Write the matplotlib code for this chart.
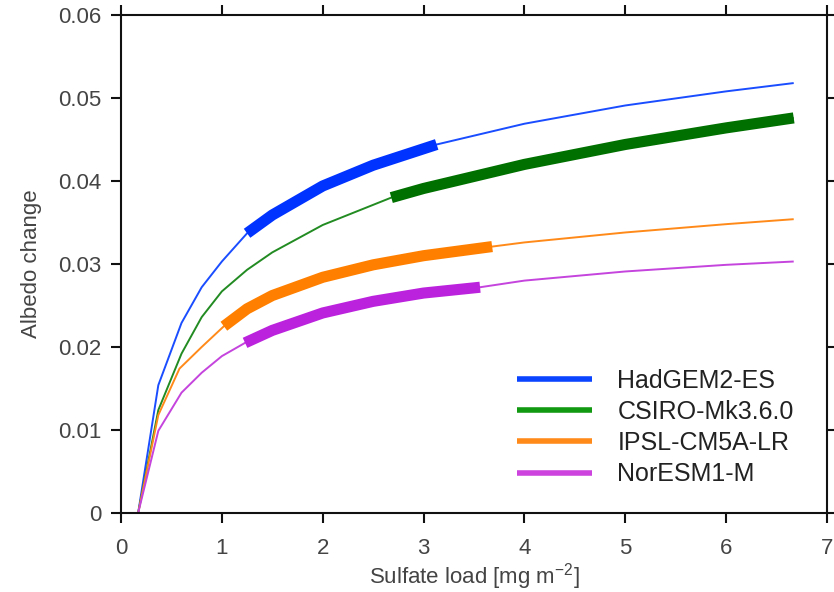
import numpy as np
import matplotlib
matplotlib.use("Agg")
import matplotlib.pyplot as plt
from matplotlib.lines import Line2D

plt.rcParams['font.family'] = ['Liberation Sans', 'DejaVu Sans']
plt.rcParams['mathtext.fontset'] = 'custom'
plt.rcParams['mathtext.rm'] = 'Liberation Sans'
plt.rcParams['mathtext.it'] = 'Liberation Sans'

models = ["HadGEM2-ES", "CSIRO-Mk3.6.0", "IPSL-CM5A-LR", "NorESM1-M"]

had_x = [0.17, 0.37, 0.6, 0.8, 1.0, 1.25, 1.5, 2.0, 2.5, 3.13, 4.0, 5.0, 6.0, 6.67]
had_y = [0.0, 0.0154, 0.0229, 0.0272, 0.0303, 0.0337, 0.0359, 0.0394, 0.0419, 0.0444, 0.0469, 0.0491, 0.0508, 0.0518]
had_thick = (1.25, 3.13)

csi_x = [0.17, 0.37, 0.6, 0.8, 1.0, 1.25, 1.5, 2.0, 2.68, 3.0, 4.0, 5.0, 6.0, 6.67]
csi_y = [0.0, 0.0124, 0.0192, 0.0236, 0.0267, 0.0293, 0.0314, 0.0347, 0.0380, 0.0391, 0.0420, 0.0444, 0.0464, 0.0476]
csi_thick = (2.68, 6.67)

ips_x = [0.17, 0.37, 0.58, 0.8, 1.02, 1.25, 1.5, 2.0, 2.5, 3.0, 3.68, 4.0, 5.0, 6.0, 6.67]
ips_y = [0.0, 0.0118, 0.0174, 0.0200, 0.0225, 0.0246, 0.0262, 0.0284, 0.0299, 0.0310, 0.0321, 0.0326, 0.0338, 0.0348, 0.0354]
ips_thick = (1.02, 3.68)

nor_x = [0.17, 0.37, 0.6, 0.8, 1.0, 1.23, 1.5, 2.0, 2.5, 3.0, 3.56, 4.0, 5.0, 6.0, 6.67]
nor_y = [0.0, 0.0099, 0.0145, 0.0169, 0.0189, 0.0205, 0.0220, 0.0241, 0.0255, 0.0265, 0.0272, 0.0280, 0.0291, 0.0299, 0.0303]
nor_thick = (1.23, 3.56)

thin_colors = ["#1a4dff", "#228b22", "#ff8a1a", "#c444dd"]
thick_colors = ["#0033ff", "#007000", "#ff8000", "#bb22dd"]
legend_colors = ["#0a44ff", "#119911", "#ff8a1a", "#cc44dd"]

xticks = [0, 1, 2, 3, 4, 5, 6, 7]
yticks = [0, 0.01, 0.02, 0.03, 0.04, 0.05, 0.06]
ytick_labels = ["0", "0.01", "0.02", "0.03", "0.04", "0.05", "0.06"]

series = [(had_x, had_y, had_thick), (csi_x, csi_y, csi_thick),
          (ips_x, ips_y, ips_thick), (nor_x, nor_y, nor_thick)]

fig = plt.figure(figsize=(8.34, 5.92), dpi=100)
ax = fig.add_axes([121/834, 1-513/592, 706/834, 498/592])

for (xs, ys, (lo, hi)), tc, kc in zip(series, thin_colors, thick_colors):
    xs = np.array(xs); ys = np.array(ys)
    ax.plot(xs, ys, color=tc, lw=1.4, solid_capstyle='butt', zorder=2)
    m = (xs >= lo - 1e-9) & (xs <= hi + 1e-9)
    ax.plot(xs[m], ys[m], color=kc, lw=8, solid_capstyle='butt',
            solid_joinstyle='round', zorder=3)

ax.set_xlim(0, 7)
ax.set_ylim(0, 0.06)
ax.set_xticks(xticks)
ax.set_xticklabels([str(v) for v in xticks])
ax.set_yticks(yticks)
ax.set_yticklabels(ytick_labels)

for s in ax.spines.values():
    s.set_linewidth(1.5)
    s.set_color('#111111')

ax.tick_params(axis='both', which='both', direction='out', length=7, width=1.5,
               color='#111111', labelsize=16, labelcolor='#444444',
               top=True, right=True, labeltop=False, labelright=False)
ax.tick_params(axis='x', pad=11)
ax.tick_params(axis='y', pad=7)

ax.set_xlabel(r'Sulfate load [mg m$^{\mathregular{-2}}$]', fontsize=16, color='#444444')
ax.xaxis.set_label_coords(0.5, (513 - 577) / 498)
ax.xaxis.label.set_va('center')
ax.set_ylabel('Albedo change', fontsize=16, color='#444444', labelpad=12)

handles = [Line2D([0], [0], color=c, lw=4, solid_capstyle='butt') for c in legend_colors]
leg = ax.legend(handles, models, loc='upper left', bbox_to_anchor=(0.5615, 0.29),
                frameon=False, fontsize=18, handlelength=3.0, handletextpad=1.0,
                labelspacing=0.29, borderpad=0, borderaxespad=0)
for t in leg.get_texts():
    t.set_color('#222222')

fig.savefig("out.png", dpi=100)
